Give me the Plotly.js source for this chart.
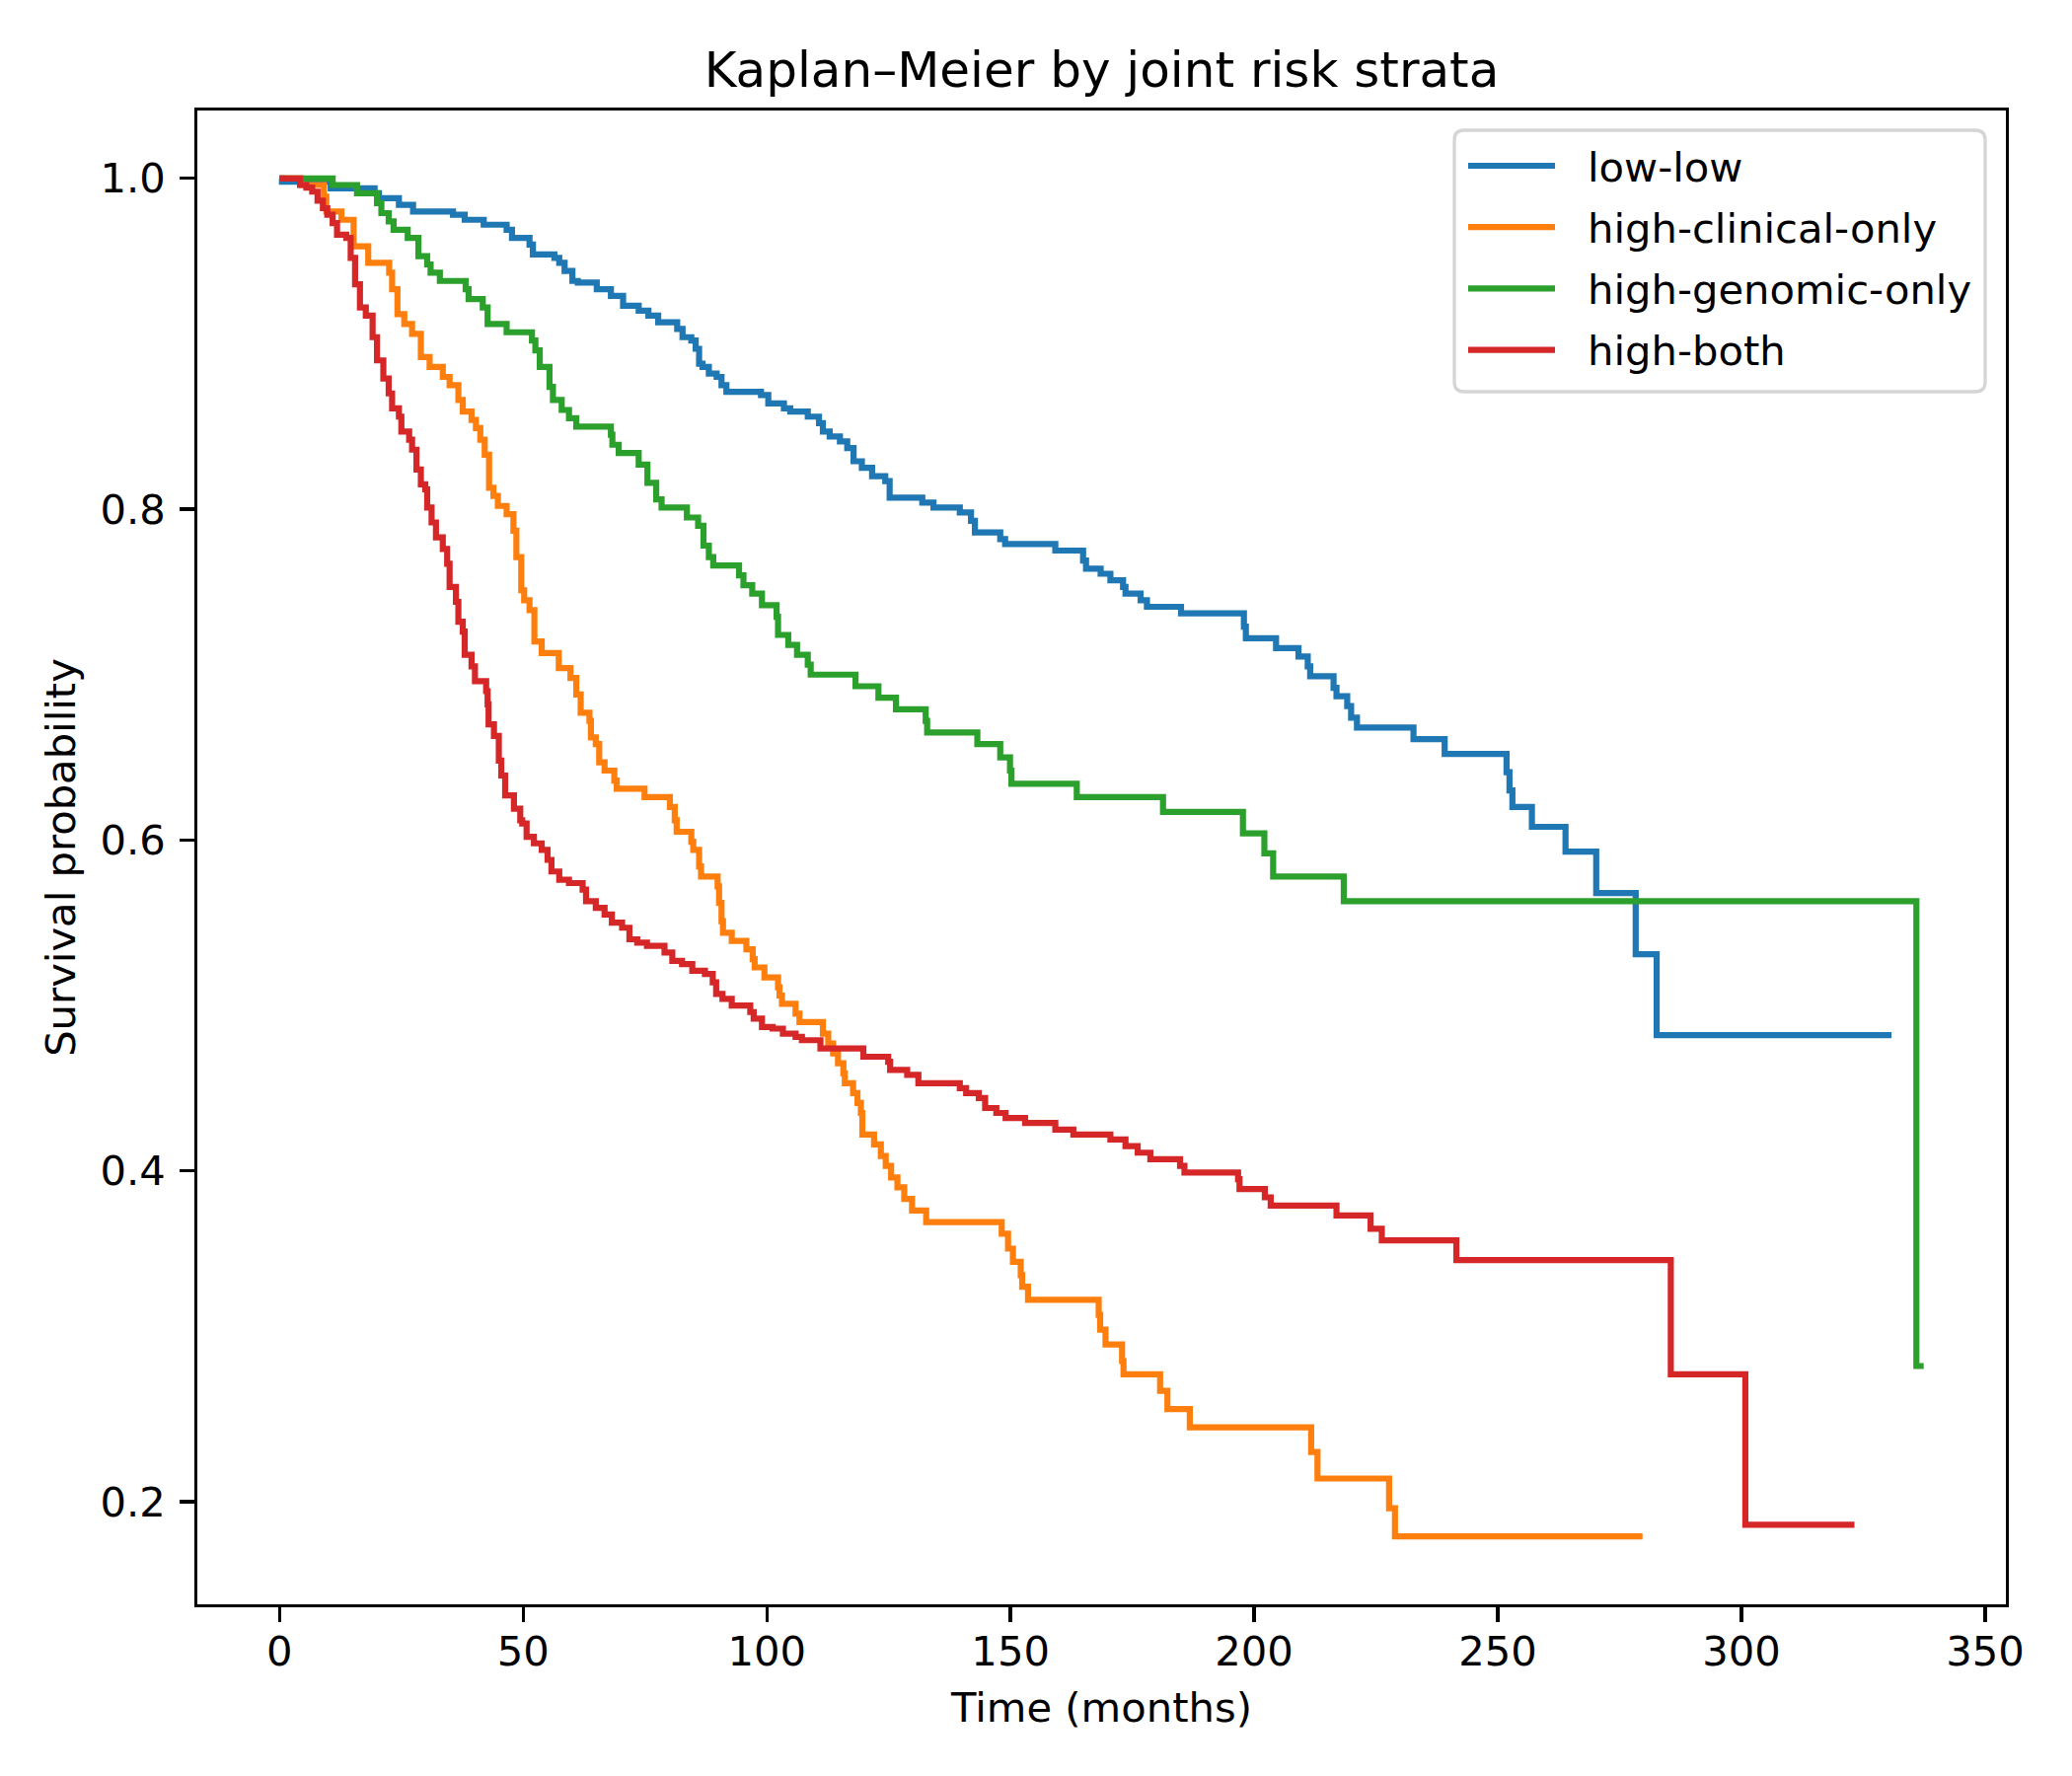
<!DOCTYPE html>
<html>
<head>
<meta charset="utf-8">
<script src="https://cdn.plot.ly/plotly-3.0.1.min.js"></script>
<style>
  html, body { margin: 0; padding: 0; background: #ffffff; }
  #chart { width: 2100px; height: 1800px; }
</style>
</head>
<body>
<div id="chart"></div>
<script>
// ---- Data ----
const seriesNames = ["low-low", "high-clinical-only", "high-genomic-only", "high-both"];
const seriesColors = ["#1f77b4", "#ff7f0e", "#2ca02c", "#d62728"];

const lowLowTime = [0, 0.5, 10.5, 19.5, 20.4, 24.5, 27.4, 35.6, 38, 41.9, 46.6, 47.7, 51.3, 52, 56.4, 57.4, 58.5, 60.1, 61.2, 65.1, 68, 70.5, 73.7, 75.7, 77.7, 81.6, 82.7, 84.5, 85.4, 86.1, 86.8, 88.1, 89.7, 90.7, 91.7, 98.8, 100.3, 103.5, 104.8, 108.4, 110.7, 111.5, 112.9, 115, 116.5, 117.8, 119.5, 121.6, 124.3, 125.2, 131.9, 134.2, 139.6, 141.9, 142.7, 147.9, 148.9, 159.2, 164.9, 165.5, 168.5, 170.5, 173.1, 173.6, 176.7, 178, 185, 197.9, 198.3, 204.5, 209.1, 211, 211.5, 216.3, 216.9, 219.1, 219.9, 221.1, 232.7, 239.1, 251.8, 252.4, 253, 257, 263.9, 270.2, 278.3, 282.6, 330.8];
const lowLowSurv = [1.0, 0.998, 0.994, 0.991, 0.988, 0.984, 0.980, 0.978, 0.975, 0.972, 0.969, 0.964, 0.960, 0.954, 0.952, 0.949, 0.944, 0.938, 0.937, 0.933, 0.929, 0.923, 0.920, 0.917, 0.913, 0.909, 0.904, 0.902, 0.897, 0.888, 0.886, 0.882, 0.880, 0.875, 0.871, 0.869, 0.864, 0.861, 0.859, 0.856, 0.852, 0.847, 0.844, 0.841, 0.837, 0.829, 0.825, 0.820, 0.817, 0.807, 0.804, 0.801, 0.798, 0.793, 0.786, 0.782, 0.779, 0.775, 0.769, 0.764, 0.761, 0.757, 0.753, 0.749, 0.745, 0.741, 0.737, 0.729, 0.722, 0.716, 0.711, 0.705, 0.699, 0.692, 0.687, 0.681, 0.674, 0.668, 0.661, 0.652, 0.641, 0.630, 0.620, 0.608, 0.593, 0.568, 0.531, 0.482, 0.482];

const clinicalTime = [0, 4.5, 9.1, 9.6, 12.7, 15.2, 18.2, 22.5, 23.1, 24.2, 25.6, 27.2, 29, 30.8, 33.5, 34.9, 36.7, 37.6, 39.4, 40.3, 41.2, 42.1, 43, 43.9, 44.8, 46.6, 48, 48.6, 49.6, 50.2, 51.3, 52.3, 53.8, 57.3, 59.7, 60.9, 61.8, 63.6, 63.9, 64.9, 65.6, 66.7, 68.7, 69.2, 74.9, 80.1, 81.1, 81.5, 84.5, 84.9, 86.1, 86.5, 89.9, 90.2, 90.7, 91, 92.8, 95.8, 97.1, 97.5, 99.5, 102.3, 102.6, 103.1, 105.9, 106.7, 111.5, 112.6, 113.6, 114.6, 115.7, 116, 117.7, 118.6, 119.3, 119.6, 122, 123.4, 124.4, 125.5, 126.8, 128.2, 129.8, 132.7, 148.2, 149.5, 150.5, 152.1, 152.4, 153.6, 168.1, 168.4, 169.5, 172.9, 173.2, 180.7, 182.2, 186.8, 211.7, 213, 227.7, 228.9, 279.7];
const clinicalSurv = [1.0, 0.996, 0.989, 0.980, 0.975, 0.959, 0.949, 0.943, 0.933, 0.918, 0.912, 0.906, 0.892, 0.886, 0.880, 0.875, 0.866, 0.859, 0.854, 0.849, 0.842, 0.833, 0.813, 0.808, 0.802, 0.797, 0.787, 0.771, 0.751, 0.745, 0.739, 0.720, 0.713, 0.704, 0.698, 0.688, 0.677, 0.672, 0.662, 0.658, 0.647, 0.642, 0.636, 0.631, 0.626, 0.620, 0.612, 0.605, 0.599, 0.594, 0.584, 0.578, 0.572, 0.562, 0.551, 0.544, 0.539, 0.534, 0.528, 0.523, 0.517, 0.511, 0.506, 0.501, 0.495, 0.490, 0.483, 0.477, 0.471, 0.465, 0.459, 0.453, 0.447, 0.441, 0.435, 0.422, 0.416, 0.409, 0.403, 0.396, 0.390, 0.383, 0.376, 0.369, 0.362, 0.353, 0.345, 0.337, 0.330, 0.322, 0.313, 0.304, 0.295, 0.285, 0.277, 0.267, 0.256, 0.245, 0.230, 0.214, 0.196, 0.179, 0.179];

const genomicTime = [0, 10.9, 15.9, 20, 20.9, 22.4, 23.4, 26.3, 28.5, 30.3, 31, 32.9, 38.2, 38.8, 41.7, 42.7, 46.6, 51.8, 52.5, 53.4, 55.4, 56.1, 57.9, 59.4, 60.9, 68, 68.3, 69.6, 73.7, 75.5, 77.3, 78.4, 83.6, 85.9, 87, 88.1, 89, 94.3, 95.2, 97, 99, 102, 102.3, 104.4, 106.2, 108.4, 109, 118.2, 122.9, 126.5, 132.6, 132.9, 143.2, 147.9, 149.9, 150.2, 163.6, 181.3, 197.7, 202.1, 203.9, 218.4, 335.9, 337.4];
const genomicSurv = [1.0, 0.996, 0.991, 0.985, 0.979, 0.974, 0.969, 0.964, 0.953, 0.948, 0.943, 0.938, 0.933, 0.927, 0.922, 0.912, 0.907, 0.902, 0.896, 0.886, 0.874, 0.866, 0.860, 0.855, 0.850, 0.845, 0.839, 0.834, 0.827, 0.816, 0.806, 0.801, 0.795, 0.790, 0.778, 0.771, 0.766, 0.760, 0.754, 0.749, 0.742, 0.735, 0.724, 0.718, 0.712, 0.706, 0.700, 0.693, 0.686, 0.679, 0.672, 0.665, 0.658, 0.650, 0.642, 0.634, 0.626, 0.617, 0.604, 0.592, 0.578, 0.563, 0.282, 0.282];

const bothTime = [0, 4.2, 5.5, 6.7, 7.8, 8.9, 9.8, 10.9, 11.8, 13.7, 14.6, 15.5, 16.5, 17.7, 19.1, 20, 21.3, 22.4, 23.1, 24.5, 25, 26.6, 27.2, 28.1, 29, 29.9, 30.3, 31.2, 32.1, 33.5, 34.4, 34.9, 36.2, 36.7, 37.6, 38, 39.4, 40.1, 42.4, 42.7, 42.9, 44, 45, 45.5, 46.3, 48.1, 49.4, 49.8, 50.7, 52.2, 53.8, 55, 55.8, 57.4, 59.4, 62.2, 62.9, 64.9, 66.7, 68.2, 70.3, 71.8, 73.4, 75.4, 79, 80.6, 82.6, 84.7, 87.3, 88.9, 89.6, 90.9, 92.8, 96.6, 97.3, 99, 101.2, 103.3, 105.9, 107.2, 111, 119.8, 124.9, 125.3, 128.8, 131.1, 139.6, 140.9, 143.5, 144.8, 147.1, 149, 153, 159.2, 162.9, 170.5, 173.6, 176.1, 178.7, 184.8, 185.7, 196.7, 197, 202.2, 203.4, 216.9, 223.9, 226.2, 241.5, 285.5, 300.8, 323.2];
const bothSurv = [1.0, 0.996, 0.9945, 0.992, 0.9865, 0.982, 0.978, 0.973, 0.966, 0.964, 0.952, 0.936, 0.922, 0.917, 0.904, 0.890, 0.879, 0.870, 0.861, 0.856, 0.847, 0.842, 0.836, 0.824, 0.815, 0.812, 0.801, 0.792, 0.783, 0.776, 0.767, 0.753, 0.744, 0.732, 0.726, 0.712, 0.705, 0.696, 0.690, 0.682, 0.670, 0.663, 0.648, 0.639, 0.627, 0.619, 0.612, 0.610, 0.602, 0.598, 0.594, 0.588, 0.581, 0.576, 0.574, 0.570, 0.563, 0.559, 0.555, 0.550, 0.547, 0.540, 0.538, 0.536, 0.532, 0.527, 0.525, 0.521, 0.519, 0.514, 0.507, 0.504, 0.500, 0.496, 0.492, 0.487, 0.486, 0.483, 0.481, 0.479, 0.474, 0.469, 0.466, 0.461, 0.458, 0.453, 0.450, 0.447, 0.444, 0.438, 0.435, 0.432, 0.429, 0.425, 0.422, 0.419, 0.415, 0.411, 0.407, 0.403, 0.399, 0.395, 0.389, 0.384, 0.379, 0.373, 0.365, 0.358, 0.346, 0.277, 0.186, 0.186];

const xTickVals = [0, 50, 100, 150, 200, 250, 300, 350];
const yTickVals = [0.2, 0.4, 0.6, 0.8, 1.0];

// ---- Build traces ----
const seriesTimes = [lowLowTime, clinicalTime, genomicTime, bothTime];
const seriesSurvs = [lowLowSurv, clinicalSurv, genomicSurv, bothSurv];

const LINE_W = 6.2;
const traces = seriesNames.map((name, i) => ({
  type: "scatter",
  mode: "lines",
  name: name,
  x: seriesTimes[i],
  y: seriesSurvs[i],
  line: { color: seriesColors[i], width: LINE_W, shape: "hv" },
  showlegend: false,
  hoverinfo: "skip"
}));

// matplotlib-like autoscale margins (5%)
const allT = [].concat(...seriesTimes);
const allS = [].concat(...seriesSurvs);
const tMin = Math.min(...allT), tMax = Math.max(...allT);
const sMin = Math.min(...allS), sMax = Math.max(...allS);
const tPad = (tMax - tMin) * 0.05, sPad = (sMax - sMin) * 0.05;

// ---- Page geometry (pixels) ----
const W = 2100, H = 1800;
const M = { l: 200, r: 67, t: 112, b: 174 };
const plotW = W - M.l - M.r, plotH = H - M.t - M.b;
const px2x = p => (p - M.l) / plotW;
const px2y = p => (H - M.b - p) / plotH;

const FONT = "DejaVu Sans, Verdana, sans-serif";
const FS = 41.7;

// ---- Legend drawn like matplotlib's (rounded frame, long handles) ----
const LEG = { left: 1474, right: 2012, top: 132, bottom: 397, radius: 10,
              handleX0: 1488, handleX1: 1576, textX: 1607, row0: 168, rowStep: 62.2 };
const shapes = [];
const annotations = [];
{
  const x0 = px2x(LEG.left), x1 = px2x(LEG.right);
  const y0 = px2y(LEG.bottom), y1 = px2y(LEG.top);
  const rx = LEG.radius / plotW, ry = LEG.radius / plotH;
  const path = `M ${x0 + rx},${y1} L ${x1 - rx},${y1} Q ${x1},${y1} ${x1},${y1 - ry} ` +
               `L ${x1},${y0 + ry} Q ${x1},${y0} ${x1 - rx},${y0} ` +
               `L ${x0 + rx},${y0} Q ${x0},${y0} ${x0},${y0 + ry} ` +
               `L ${x0},${y1 - ry} Q ${x0},${y1} ${x0 + rx},${y1} Z`;
  shapes.push({ type: "path", xref: "paper", yref: "paper", path: path,
                fillcolor: "rgba(255,255,255,0.8)", line: { color: "#d5d5d5", width: 3.3 }, layer: "above" });
  seriesNames.forEach((name, i) => {
    const yy = px2y(LEG.row0 + i * LEG.rowStep);
    shapes.push({ type: "line", xref: "paper", yref: "paper",
                  x0: px2x(LEG.handleX0), x1: px2x(LEG.handleX1), y0: yy, y1: yy,
                  line: { color: seriesColors[i], width: LINE_W }, layer: "above" });
    annotations.push({ xref: "paper", yref: "paper", x: px2x(LEG.textX), y: px2y(LEG.row0 + i * LEG.rowStep + 1),
                       xanchor: "left", yanchor: "middle", showarrow: false, text: name,
                       font: { family: FONT, size: FS, color: "#000000" } });
  });
}

const axisCommon = {
  showgrid: false,
  zeroline: false,
  showline: true,
  linecolor: "#000000",
  linewidth: 3.3,
  mirror: true,
  ticks: "outside",
  ticklen: 14.6,
  tickwidth: 3.3,
  tickcolor: "#000000",
  tickfont: { family: FONT, size: FS, color: "#000000" },
  automargin: false
};

const layout = {
  width: W,
  height: H,
  paper_bgcolor: "#ffffff",
  plot_bgcolor: "#ffffff",
  margin: { l: M.l, r: M.r, t: M.t, b: M.b, pad: 0 },
  font: { family: FONT, color: "#000000" },
  title: {
    text: "Kaplan–Meier by joint risk strata",
    font: { family: FONT, size: 50, color: "#000000" },
    x: 0.5, xref: "paper", xanchor: "center",
    y: 1 - 70 / H, yref: "container", yanchor: "middle"
  },
  xaxis: Object.assign({}, axisCommon, {
    range: [tMin - tPad, tMax + tPad],
    tickmode: "array",
    tickvals: xTickVals,
    ticktext: xTickVals.map(String),
    ticklabelstandoff: -6,
    title: { text: "Time (months)", font: { family: FONT, size: FS, color: "#000000" }, standoff: 20 }
  }),
  yaxis: Object.assign({}, axisCommon, {
    range: [sMin - sPad, sMax + sPad],
    tickmode: "array",
    tickvals: yTickVals,
    ticktext: yTickVals.map(v => v.toFixed(1)),
    ticklabelstandoff: 6,
    title: { text: "Survival probability", font: { family: FONT, size: FS, color: "#000000" }, standoff: 13 }
  }),
  showlegend: false,
  shapes: shapes,
  annotations: annotations
};

Plotly.newPlot("chart", traces, layout, { displayModeBar: false, staticPlot: true });
</script>
</body>
</html>
